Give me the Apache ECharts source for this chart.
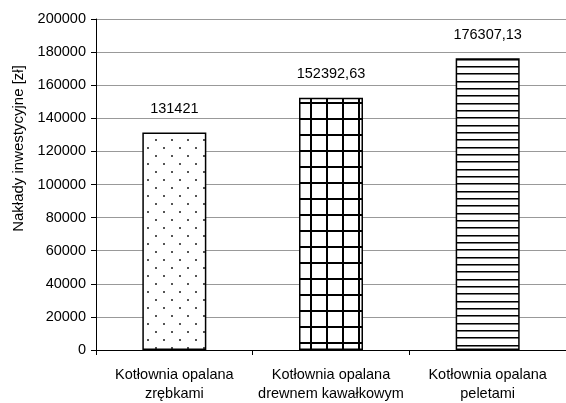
<!DOCTYPE html>
<html>
<head>
<meta charset="utf-8">
<script src="https://cdn.jsdelivr.net/npm/echarts@6/dist/echarts.min.js"></script>
<style>
  html, body { margin: 0; padding: 0; background: #fff; }
  #chart { width: 566px; height: 403px; }
</style>
</head>
<body>
<div id="chart"></div>
<script>
// Boiler-house investment outlay, PLN
const categories = [
  'Kotłownia opalana\nzrębkami',
  'Kotłownia opalana\ndrewnem kawałkowym',
  'Kotłownia opalana\npeletami'
];
const costs = [131421, 152392.63, 176307.13];
const yTicks = { min: 0, max: 200000, interval: 20000 };
const yAxisTitle = 'Nakłady inwestycyjne [zł]';

const FONT = 'Liberation Sans, Arial, sans-serif';

// Fill textures for the three bars
function makePattern(w, h, draw) {
  const c = document.createElement('canvas');
  c.width = w; c.height = h;
  const ctx = c.getContext('2d');
  ctx.fillStyle = '#fff';
  ctx.fillRect(0, 0, w, h);
  draw(ctx);
  return { image: c, repeat: 'repeat' };
}
const dots = makePattern(16, 16, ctx => {
  ctx.fillStyle = '#555';
  ctx.fillRect(3, 3, 2, 2);
  ctx.fillRect(11, 11, 2, 2);
});
const grid = makePattern(16, 16, ctx => {
  ctx.fillStyle = '#000';
  ctx.fillRect(6, 0, 2, 16);
  ctx.fillRect(0, 6, 16, 2);
});
const stripes = makePattern(4, 22, ctx => {
  ctx.fillStyle = '#000';
  [0, 7, 15].forEach(y => ctx.fillRect(0, y, 4, 1));
  ctx.fillStyle = '#777';
  [1, 8, 16].forEach(y => ctx.fillRect(0, y, 4, 1));
});
const fills = [dots, grid, stripes];

const chart = echarts.init(document.getElementById('chart'), null, { renderer: 'canvas' });
chart.setOption({
  animation: false,
  backgroundColor: '#fff',
  textStyle: { fontFamily: FONT },
  grid: { left: 96, right: -1, top: 19, bottom: 53, containLabel: false },
  xAxis: {
    type: 'category',
    data: categories,
    axisLine: { lineStyle: { color: '#000', width: 1 } },
    axisTick: { show: true, length: 5, lineStyle: { color: '#000' } },
    axisLabel: {
      color: '#000', fontSize: 14.5, fontFamily: FONT,
      lineHeight: 19, margin: 15, interval: 0
    },
    splitLine: { show: false }
  },
  yAxis: {
    type: 'value',
    min: yTicks.min, max: yTicks.max, interval: yTicks.interval,
    name: yAxisTitle,
    nameLocation: 'middle',
    nameGap: 70,
    nameTextStyle: {
      color: '#000', fontSize: 15, fontFamily: FONT,
      padding: [0, 0, 0, 72]
    },
    axisLine: { show: true, lineStyle: { color: '#000', width: 1 } },
    axisTick: { show: true, length: 5, lineStyle: { color: '#000' } },
    axisLabel: {
      color: '#000', fontSize: 14.5, fontFamily: FONT, margin: 10,
      formatter: v => String(v)
    },
    splitLine: { show: true, lineStyle: { color: '#999', width: 1 } }
  },
  series: [{
    type: 'bar',
    barWidth: 64,
    data: costs.map((v, i) => ({
      value: v,
      itemStyle: { color: fills[i], borderColor: '#000', borderWidth: 1.5 }
    })),
    label: {
      show: true,
      position: 'top',
      distance: 16,
      color: '#000',
      fontSize: 14.5,
      fontFamily: FONT,
      formatter: p => String(p.value).replace('.', ',')
    }
  }]
});
</script>
</body>
</html>
